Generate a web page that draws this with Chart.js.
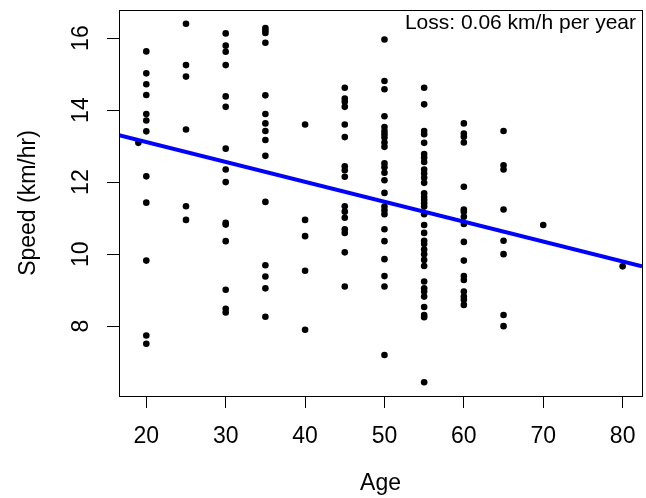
<!DOCTYPE html>
<html>
<head>
<meta charset="utf-8">
<script src="https://cdn.jsdelivr.net/npm/chart.js@4"></script>
<style>
  html, body { margin: 0; padding: 0; background: #fff; }
  canvas { display: block; }
</style>
</head>
<body>
<canvas id="grafico" width="646" height="498"></canvas>
<script>
const ages = [19, 20, 25, 30, 35, 40, 45, 50, 55, 60, 65, 70, 80];
const speeds = [
  [13.09],
  [15.63, 15.02, 14.72, 14.42, 13.89, 13.71, 13.41, 12.16, 11.43, 9.82, 7.74, 7.51],
  [16.40, 15.25, 14.93, 13.46, 11.33, 10.95],
  [16.13, 15.79, 15.62, 15.25, 14.38, 14.09, 12.93, 12.35, 12.00, 10.87, 10.82, 10.36, 9.01, 8.48, 8.38],
  [16.28, 16.21, 16.14, 15.87, 14.41, 13.89, 13.63, 13.42, 13.17, 12.73, 11.45, 9.69, 9.38, 9.05, 8.26],
  [13.60, 10.95, 10.50, 9.54, 7.90],
  [14.62, 14.32, 14.23, 14.09, 13.60, 13.25, 12.44, 12.33, 12.15, 11.33, 11.18, 11.01, 10.69, 10.59, 10.05, 9.10],
  [15.96, 14.81, 14.58, 13.83, 13.53, 13.42, 13.33, 13.24, 13.10, 12.98, 12.52, 12.41, 12.26, 12.05, 11.70,
   11.32, 11.22, 11.11, 10.69, 10.36, 9.86, 9.39, 9.10, 7.20],
  [14.62, 14.16, 13.42, 13.33, 13.09, 12.78, 12.68, 12.56, 12.35, 12.24, 12.12, 11.98, 11.69, 11.59, 11.50,
   11.41, 11.32, 11.11, 10.81, 10.59, 10.37, 10.28, 10.13, 10.00, 9.84, 9.67, 9.24, 9.05, 8.96, 8.82,
   8.53, 8.31, 8.25, 6.44],
  [13.63, 13.35, 13.26, 13.10, 11.87, 11.24, 11.18, 11.04, 10.84, 10.34, 9.82, 9.39, 9.28, 8.96, 8.82, 8.73, 8.59],
  [13.42, 12.47, 12.35, 11.24, 10.37, 10.00, 8.31, 8.00],
  [10.81],
  [9.66]
];
const xTicks = [20, 30, 40, 50, 60, 70, 80];
const yTicks = [8, 10, 12, 14, 16];
// fitted line, read at the two ends of the x range
const fitAges = [16.56, 82.44];
const fitSpeeds = [13.30, 9.66];
const lossText = 'Loss: 0.06 km/h per year';

const fonte = '"Liberation Sans", Arial, Helvetica, sans-serif';

const pontos = [];
ages.forEach((a, i) => speeds[i].forEach(v => pontos.push({ x: a, y: v })));

const moldura = {
  id: 'moldura',
  afterDraw(chart) {
    const { ctx, chartArea: a } = chart;
    ctx.save();
    ctx.strokeStyle = '#000';
    ctx.lineWidth = 1;
    ctx.strokeRect(a.left + 0.5, a.top + 0.5, a.right - a.left, a.bottom - a.top);
    ctx.font = `21px ${fonte}`;
    ctx.fillStyle = '#000';
    ctx.textAlign = 'right';
    ctx.textBaseline = 'alphabetic';
    ctx.fillText(lossText, a.right - 6, a.top + 19.3);
    ctx.restore();
  }
};

new Chart(document.getElementById('grafico'), {
  type: 'scatter',
  data: {
    datasets: [
      {
        data: fitAges.map((x, i) => ({ x, y: fitSpeeds[i] })),
        showLine: true,
        borderColor: '#0000ff',
        borderWidth: 4,
        pointRadius: 0,
        fill: false
      },
      {
        data: pontos,
        backgroundColor: '#000',
        borderWidth: 0,
        pointRadius: 3.3
      }
    ]
  },
  options: {
    responsive: false,
    animation: false,
    layout: { padding: { top: 10, right: 4, left: 0, bottom: 0 } },
    plugins: { legend: { display: false }, tooltip: { enabled: false } },
    scales: {
      x: {
        type: 'linear',
        min: 16.56,
        max: 82.44,
        afterBuildTicks: s => { s.ticks = xTicks.map(v => ({ value: v })); },
        afterFit: s => { s.height = 102; s.paddingLeft = 0; s.paddingRight = 0; },
        grid: { drawOnChartArea: false, drawTicks: true, tickLength: 12, color: '#000' },
        border: { display: false },
        ticks: { color: '#000', font: { family: fonte, size: 23 }, padding: 15, maxRotation: 0, autoSkip: false },
        title: { display: true, text: 'Age', color: '#000', font: { family: fonte, size: 23 }, padding: { top: 0, bottom: 1 } }
      },
      y: {
        type: 'linear',
        min: 6.06,
        max: 16.78,
        afterBuildTicks: s => { s.ticks = yTicks.map(v => ({ value: v })); },
        afterFit: s => { s.width = 119; s.paddingTop = 0; s.paddingBottom = 0; },
        grid: { drawOnChartArea: false, drawTicks: true, tickLength: 12, color: '#000' },
        border: { display: false },
        ticks: { color: '#000', font: { family: fonte, size: 23 }, padding: 13, minRotation: 90, maxRotation: 90, crossAlign: 'center', autoSkip: false },
        title: { display: true, text: 'Speed (km/hr)', color: '#000', font: { family: fonte, size: 23 }, padding: { top: 15, bottom: 0 } }
      }
    }
  },
  plugins: [moldura]
});
</script>
</body>
</html>
